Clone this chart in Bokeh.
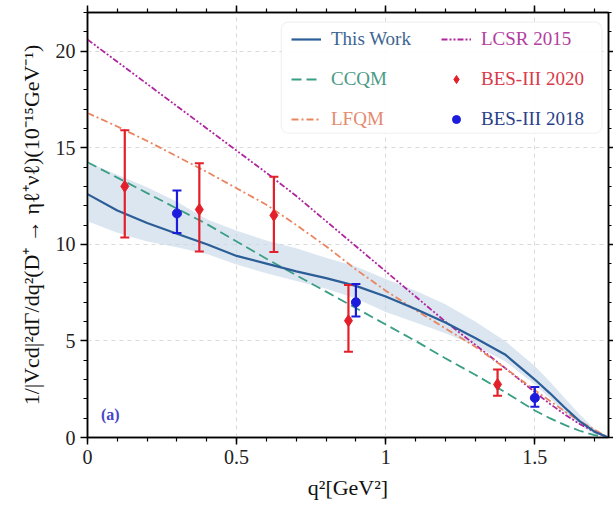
from bokeh.plotting import figure
from bokeh.models import (Legend, LegendItem, Whisker, TeeHead, ColumnDataSource,
                          BoxAnnotation, Label, LinearAxis, SingleIntervalTicker, Range1d,
                          CustomJSTickFormatter)
from bokeh.embed import file_html
from bokeh.resources import INLINE

FONT = "Liberation Serif"

# ---------------- data ----------------
q = [0.0, 0.1, 0.2, 0.3, 0.4, 0.5, 0.6, 0.7, 0.8, 0.9, 1.0, 1.1, 1.2, 1.3, 1.4,
     1.5, 1.55, 1.6, 1.65, 1.7, 1.747]
this_work = [12.6, 11.75, 11.1, 10.55, 10.0, 9.4, 9.0, 8.6, 8.25, 7.85, 7.3, 6.65,
             5.95, 5.15, 4.3, 3.0, 2.3, 1.55, 0.85, 0.3, 0.0]
band_upper = [14.25, 13.6, 12.95, 12.2, 11.3, 10.7, 10.2, 9.8, 9.3, 8.85, 8.2, 7.6,
              6.9, 6.0, 5.0, 3.7, 2.9, 2.05, 1.2, 0.45, 0.0]
band_lower = [11.2, 10.6, 10.15, 9.85, 9.5, 8.95, 8.5, 8.1, 7.7, 7.2, 6.5, 5.95,
              5.4, 4.75, 3.95, 2.75, 2.05, 1.3, 0.65, 0.15, 0.0]
ccqm = [14.25, 13.45, 12.65, 11.85, 11.05, 10.15, 9.25, 8.4, 7.55, 6.7, 5.85, 5.0,
        4.1, 3.25, 2.35, 1.4, 1.0, 0.65, 0.35, 0.12, 0.0]
lfqm = [16.8, 16.1, 15.35, 14.55, 13.75, 12.9, 12.05, 11.0, 9.9, 8.7, 7.6, 6.6,
        5.65, 4.7, 3.6, 2.45, 1.9, 1.35, 0.85, 0.4, 0.0]
lcsr = [20.6, 19.45, 18.3, 17.15, 16.0, 14.85, 13.7, 12.5, 11.2, 9.9, 8.6, 7.3,
        6.0, 4.8, 3.6, 2.35, 1.75, 1.2, 0.7, 0.3, 0.0]

bes2020_q = [0.125, 0.375, 0.625, 0.875, 1.375]
bes2020_val = [13.0, 11.8, 11.5, 6.05, 2.75]
bes2020_lo = [10.35, 9.63, 9.6, 4.44, 2.16]
bes2020_hi = [15.9, 14.2, 13.5, 7.9, 3.52]

bes2018_q = [0.3, 0.9, 1.5]
bes2018_val = [11.6, 7.0, 2.05]
bes2018_lo = [10.58, 6.26, 1.59]
bes2018_hi = [12.79, 7.94, 2.62]

# ---------------- colours ----------------
C_TW = "#2b5d96"
C_BAND = "#c9d8ea"
C_CCQM = "#3a9e84"
C_LFQM = "#ea8560"
C_LCSR = "#b0259f"
C_RED = "#e3202a"
C_BLUE = "#1c1cdc"

FW, FH = 521, 425
p = figure(frame_width=FW, frame_height=FH,
           x_range=Range1d(0, 1.747), y_range=Range1d(0, 22),
           output_backend="svg", toolbar_location=None,
           min_border_left=87, min_border_right=5, min_border_top=12, min_border_bottom=74,
           background_fill_color="white")
p.outline_line_color = "black"
p.outline_line_width = 1.5

xt = SingleIntervalTicker(interval=0.5, num_minor_ticks=5)
yt = SingleIntervalTicker(interval=5, num_minor_ticks=5)

bottom_ax = p.below[0]
left_ax = p.left[0]
bottom_ax.ticker = xt
left_ax.ticker = yt

blank = CustomJSTickFormatter(code="return '';")
top_ax = LinearAxis(ticker=xt, formatter=blank, major_label_standoff=0)
right_ax = LinearAxis(ticker=yt, formatter=blank, major_label_standoff=0)
p.add_layout(top_ax, "above")
p.add_layout(right_ax, "right")

for ax in [bottom_ax, left_ax, top_ax, right_ax]:
    ax.axis_line_width = 1.5
    ax.axis_line_color = "black"
    ax.major_tick_line_width = 1.5
    ax.minor_tick_line_width = 1.2
    ax.major_tick_in = 0
    ax.major_tick_out = 7
    ax.minor_tick_in = 0
    ax.minor_tick_out = 4
right_ax.major_tick_out = 5
right_ax.minor_tick_out = 3

for ax in [bottom_ax, left_ax]:
    ax.major_label_text_font = FONT
    ax.major_label_text_color = "#222222"
    ax.major_label_text_font_size = "20px"
    ax.axis_label_text_font = FONT
    ax.axis_label_text_font_style = "normal"
    ax.axis_label_text_color = "#111111"

bottom_ax.axis_label = "q²[GeV²]"
left_ax.axis_label = "1/|Vcd|²dΓ/dq²(D⁺ → ηℓ⁺νℓ)(10⁻¹⁵GeV⁻¹)"
bottom_ax.axis_label_text_font_size = "22px"
left_ax.axis_label_text_font_size = "22px"
bottom_ax.axis_label_standoff = 8
left_ax.axis_label_standoff = 9

p.xgrid.ticker = xt
p.ygrid.ticker = yt
for g in [p.xgrid[0], p.ygrid[0]]:
    g.grid_line_color = "#d9d9d9"
    g.grid_line_dash = "4 4"
    g.grid_line_width = 1

# ---------------- glyphs ----------------
p.varea(x=q, y1=band_lower, y2=band_upper, fill_color=C_BAND, fill_alpha=0.65)
r_lcsr = p.line(q, lcsr, line_color=C_LCSR, line_width=1.8, line_dash="6 2 2 2 2 2")
r_lfqm = p.line(q, lfqm, line_color=C_LFQM, line_width=1.8, line_dash="7 3 2 3")
r_ccqm = p.line(q, ccqm, line_color=C_CCQM, line_width=1.8, line_dash="10 5")
r_tw = p.line(q, this_work, line_color=C_TW, line_width=2.2)

src20 = ColumnDataSource(dict(q=bes2020_q, v=bes2020_val, lo=bes2020_lo, hi=bes2020_hi))
src18 = ColumnDataSource(dict(q=bes2018_q, v=bes2018_val, lo=bes2018_lo, hi=bes2018_hi))

for src, col in [(src20, C_RED), (src18, C_BLUE)]:
    w = Whisker(source=src, base="q", lower="lo", upper="hi", dimension="height",
                line_color=col, line_width=2.2, level="glyph",
                upper_head=TeeHead(size=9, line_color=col, line_width=2),
                lower_head=TeeHead(size=9, line_color=col, line_width=2))
    p.add_layout(w)

r_20 = p.scatter("q", "v", source=src20, marker="diamond", size=12,
                 fill_color=C_RED, line_color=C_RED)
r_18 = p.scatter("q", "v", source=src18, marker="circle", size=9,
                 fill_color=C_BLUE, line_color=C_BLUE)

# ---------------- legend ----------------
box = BoxAnnotation(left=0.650, right=1.725, bottom=15.75, top=21.50,
                    fill_color="white", fill_alpha=0.9,
                    line_color="#cfcfcf", line_width=1.2, border_radius=7)
p.add_layout(box)

C1, C2 = 204, 354
R1, R2, R3 = 387, 347, 307
entries = [
    ("This Work", r_tw, "#3b6590", (C1, R1)),
    ("CCQM", r_ccqm, "#4a9a85", (C1, R2)),
    ("LFQM", r_lfqm, "#e48a6e", (C1, R3)),
    ("LCSR 2015", r_lcsr, "#b2409f", (C2, R1)),
    ("BES-III 2020", r_20, "#d83a4a", (C2, R2)),
    ("BES-III 2018", r_18, "#2a3f8a", (C2, R3)),
]
for lab, rend, col, loc in entries:
    leg = Legend(items=[LegendItem(label=lab, renderers=[rend])], location=loc,
                 background_fill_alpha=0, border_line_alpha=0, padding=0, margin=0,
                 spacing=0, glyph_width=30, glyph_height=20, label_height=20,
                 label_standoff=10, label_text_font=FONT, label_text_font_size="19px",
                 label_text_color=col, label_text_baseline="middle")
    p.add_layout(leg)

p.add_layout(Label(x=0.045, y=0.75, text="(a)", text_font=FONT, text_font_size="16px",
                   text_font_style="bold", text_color="#4646c8"))

open("out.html", "w").write(file_html(p, INLINE))
